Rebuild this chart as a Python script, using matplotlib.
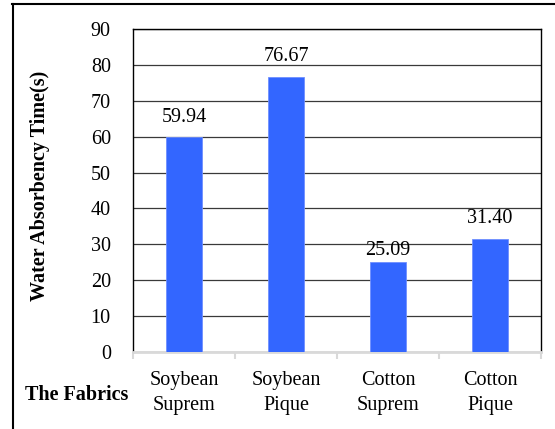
import matplotlib
matplotlib.use("Agg")
import matplotlib.pyplot as plt
from matplotlib.lines import Line2D
import numpy as np

categories = ["Soybean\nSuprem", "Soybean\nPique", "Cotton\nSuprem", "Cotton\nPique"]
absorbency = [59.94, 76.67, 25.09, 31.40]
value_labels = ["59.94", "76.67", "25.09", "31.40"]
yticks = [0, 10, 20, 30, 40, 50, 60, 70, 80, 90]

label_gap_pt = [7, 7.5, 1.5, 8.5]

plt.rcParams["font.family"] = ["Liberation Serif", "DejaVu Serif"]
FS = 14.5

fig = plt.figure(figsize=(5.55, 4.29), dpi=100)
ax = fig.add_axes([133 / 555, 77 / 429, 408 / 555, 323 / 429])

x = np.arange(len(categories))
ax.bar(x, absorbency, width=0.355, color="#3366FF", edgecolor="#6F8FFF",
       linewidth=0.6, zorder=3)

for xi, v, txt, gap in zip(x, absorbency, value_labels, label_gap_pt):
    ax.annotate(txt, (xi, v), xytext=(0, gap), textcoords="offset points",
                ha="center", va="bottom", fontsize=FS, color="black")

ax.set_xlim(-0.5, len(categories) - 0.5)
ax.set_ylim(0, 90)
ax.set_yticks(yticks)
ax.set_yticklabels([str(t) for t in yticks], fontsize=FS)
ax.tick_params(axis="y", length=0, pad=16)
ax.yaxis.grid(True, color="#3a3a3a", linewidth=0.9, zorder=0)
ax.set_axisbelow(True)

ax.set_xticks(x)
ax.set_xticklabels(categories, fontsize=FS, linespacing=1.4)
ax.tick_params(axis="x", which="major", length=0, pad=14)
ax.set_xticks(np.arange(-0.5, len(categories)), minor=True)
ax.tick_params(axis="x", which="minor", length=5, width=1.5, color="#D9D9D9",
               direction="out")

for side in ("left", "right", "top"):
    ax.spines[side].set_color("black")
    ax.spines[side].set_linewidth(1.0)
ax.spines["bottom"].set_color("#D9D9D9")
ax.spines["bottom"].set_linewidth(2.0)

fig.text(40 / 555, 1 - 186 / 429, "Water Absorbency Time(s)", fontsize=FS,
         fontweight="bold", rotation=90, ha="center", va="center")

fig.text(128 / 555, 1 - 395 / 429, "The Fabrics", fontsize=FS, fontweight="bold",
         ha="right", va="center")

# outer frame (top and left edges)
fig.add_artist(Line2D([12 / 555, 1.0], [1 - 3.5 / 429, 1 - 3.5 / 429],
                      transform=fig.transFigure, color="black", linewidth=1.5))
fig.add_artist(Line2D([12.5 / 555, 12.5 / 555], [0.0, 1 - 3.5 / 429],
                      transform=fig.transFigure, color="black", linewidth=1.5))

fig.savefig("out.png", dpi=100)
